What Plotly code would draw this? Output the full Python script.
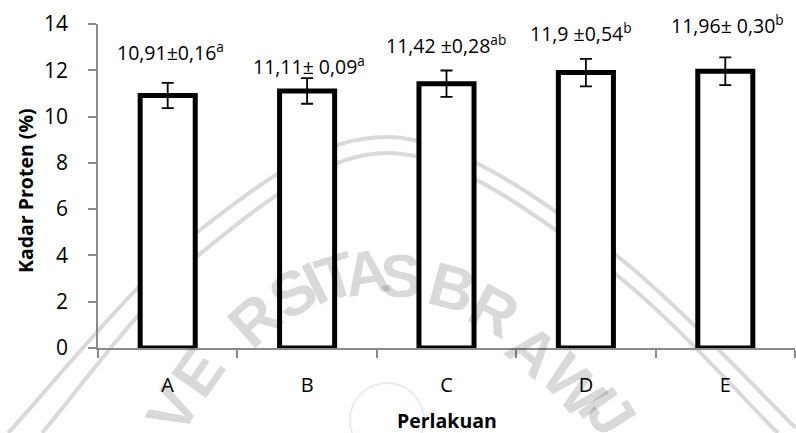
import plotly.graph_objects as go

# Protein content per treatment
perlakuan = ["A", "B", "C", "D", "E"]
kadar_protein = [10.91, 11.11, 11.42, 11.90, 11.96]
label_teks = [
    "10,91±0,16<sup>a</sup>",
    "11,11± 0,09<sup>a</sup>",
    "11,42 ±0,28<sup>ab</sup>",
    "11,9 ±0,54<sup>b</sup>",
    "11,96± 0,30<sup>b</sup>",
]
label_y = [12.83, 12.22, 13.13, 13.65, 14.0]
label_dx = [3, 2, -1, -5, 2]
y_ticks = [0, 2, 4, 6, 8, 10, 12, 14]

W, H = 796, 433
ML, MR, MT, MB = 98, 1, 24, 85
PW, PH = W - ML - MR, H - MT - MB
FONT = "Open Sans"
AXIS_GREY = "#8a8a8a"


def px2paper(px, py):
    return (px - ML) / PW, (H - MB - py) / PH


def smooth_path(pts):
    """Catmull-Rom curve through pixel points, as an SVG path in paper units."""
    p = [px2paper(*q) for q in pts]
    p = [p[0]] + p + [p[-1]]
    d = f"M {p[1][0]:.4f},{p[1][1]:.4f}"
    for i in range(1, len(p) - 2):
        p0, p1, p2, p3 = p[i - 1], p[i], p[i + 1], p[i + 2]
        c1 = (p1[0] + (p2[0] - p0[0]) / 6, p1[1] + (p2[1] - p0[1]) / 6)
        c2 = (p2[0] - (p3[0] - p1[0]) / 6, p2[1] - (p3[1] - p1[1]) / 6)
        d += f" C {c1[0]:.4f},{c1[1]:.4f} {c2[0]:.4f},{c2[1]:.4f} {p2[0]:.4f},{p2[1]:.4f}"
    return d


fig = go.Figure()
fig.add_trace(go.Bar(
    x=perlakuan,
    y=kadar_protein,
    width=0.395,
    marker=dict(color="white", line=dict(color="black", width=5)),
    error_y=dict(type="percent", value=5, symmetric=True,
                 color="black", thickness=1.8, width=6),
    showlegend=False,
    hoverinfo="skip",
))

annotations = []
for cat, txt, ly, dx in zip(perlakuan, label_teks, label_y, label_dx):
    annotations.append(dict(
        x=cat, y=ly, xref="x", yref="y", text=txt, showarrow=False,
        xanchor="center", yanchor="middle", xshift=dx,
        font=dict(family=FONT, size=19.5, color="black"),
    ))

# axis titles
tx, ty = px2paper(447, 421)
annotations.append(dict(x=tx, y=ty, xref="paper", yref="paper",
                        text="<b>Perlakuan</b>", showarrow=False,
                        xanchor="center", yanchor="middle",
                        font=dict(family=FONT, size=19.5, color="black")))
tx, ty = px2paper(25, 191)
annotations.append(dict(x=tx, y=ty, xref="paper", yref="paper",
                        text="<b>Kadar Proten (%)</b>", showarrow=False,
                        textangle=-90, xanchor="center", yanchor="middle",
                        font=dict(family=FONT, size=19.5, color="black")))

# faint university watermark: arched lettering
WM = "rgba(0,0,0,0.15)"
letters = [
    ("V", 172, 410, -62), ("E", 198, 373, -55), ("R", 254, 320, -42),
    ("S", 292, 293, -33), ("I", 314, 283, -26), ("T", 336, 276, -18),
    ("A", 366, 272, -9), ("S", 400, 275, 0), ("B", 452, 287, 15),
    ("R", 494, 310, 28), ("A", 533, 350, 40), ("W", 574, 385, 48),
    ("I", 598, 402, 54), ("J", 612, 414, 58),
]
for ch, lx, ly, ang in letters:
    xp, yp = px2paper(lx, ly)
    annotations.append(dict(
        x=xp, y=yp, xref="paper", yref="paper", text=f"<b>{ch}</b>",
        showarrow=False, textangle=ang, xanchor="center", yanchor="middle",
        font=dict(family="Liberation Sans", size=62, color=WM, weight="bold"),
    ))

shapes = []
outer = [(8, 433), (200, 230), (390, 137), (600, 243), (796, 428)]
inner = [(42, 433), (200, 254), (390, 153), (600, 262), (778, 433)]
for pts in (outer, inner):
    shapes.append(dict(type="path", path=smooth_path(pts), xref="paper",
                       yref="paper", line=dict(color=WM, width=4),
                       layer="below"))
cx0, cy0 = px2paper(350, 383)
cx1, cy1 = px2paper(424, 457)
shapes.append(dict(type="circle", xref="paper", yref="paper",
                   x0=cx0, y0=cy1, x1=cx1, y1=cy0,
                   line=dict(color="rgba(0,0,0,0.08)", width=2),
                   layer="below"))

fig.update_layout(
    width=W, height=H,
    margin=dict(l=ML, r=MR, t=MT, b=MB),
    paper_bgcolor="white", plot_bgcolor="rgba(0,0,0,0)",
    bargap=0.6,
    annotations=annotations,
    shapes=shapes,
    font=dict(family=FONT, size=21, color="black"),
)
fig.update_xaxes(
    type="category", range=[-0.5, 4.5],
    showline=True, linecolor=AXIS_GREY, linewidth=1.5,
    ticks="outside", tickson="boundaries", ticklen=8, tickcolor=AXIS_GREY,
    tickwidth=1.5, showgrid=False, zeroline=False,
    ticklabelstandoff=18,
    tickfont=dict(family=FONT, size=20, color="black"),
)
fig.update_yaxes(
    range=[0, 14], tickvals=y_ticks,
    showline=True, linecolor=AXIS_GREY, linewidth=1.5,
    ticks="outside", ticklen=8, tickcolor=AXIS_GREY, tickwidth=1.5,
    showgrid=False, zeroline=False,
    ticklabelstandoff=16,
    tickfont=dict(family=FONT, size=21, color="black"),
)

fig.write_html("out.html")
